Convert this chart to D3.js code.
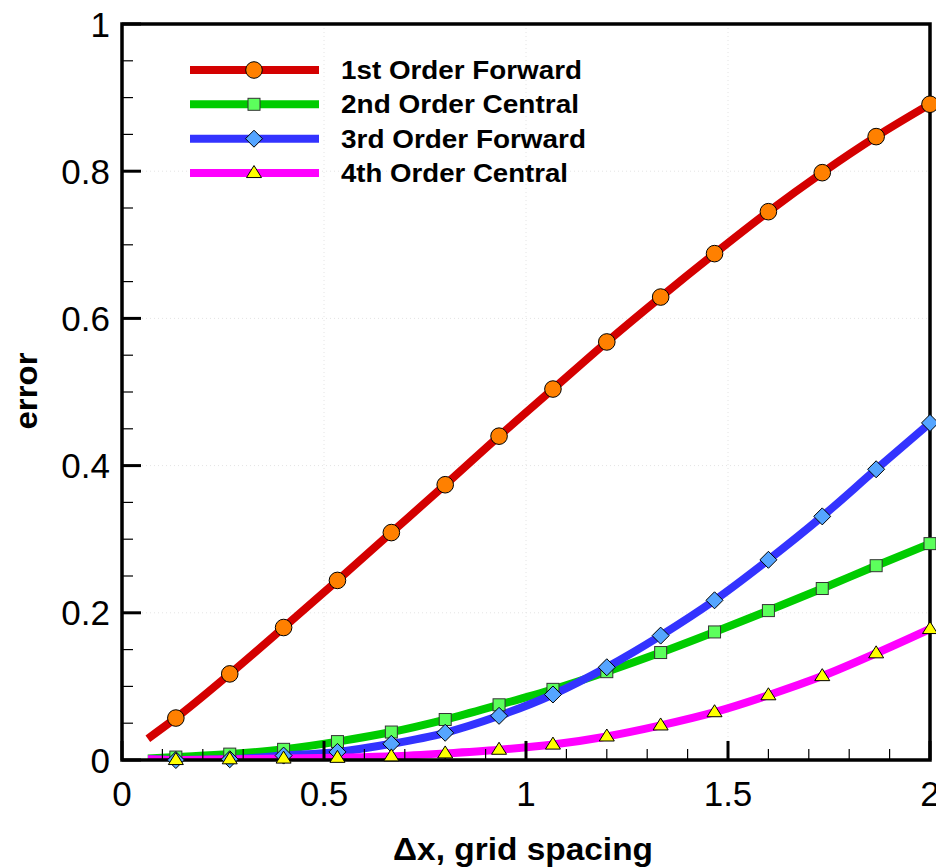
<!DOCTYPE html>
<html>
<head>
<meta charset="utf-8">
<script src="https://cdn.jsdelivr.net/npm/d3@7"></script>
<style>
  html, body { margin: 0; padding: 0; background: #fff; }
  svg { display: block; }
  text { font-family: "Liberation Sans", Arial, sans-serif; }
</style>
</head>
<body>
<svg id="chart" width="936" height="867"></svg>
<script>
// ---------------- data ----------------
const seriesNames = ["1st Order Forward", "2nd Order Central", "3rd Order Forward", "4th Order Central"];
const markerX = [0.1333, 0.2667, 0.4, 0.5333, 0.6667, 0.8, 0.9333, 1.0667, 1.2, 1.3333, 1.4667, 1.6, 1.7333, 1.8667, 2.0];
const firstOrder  = [0.057, 0.117, 0.180, 0.244, 0.309, 0.374, 0.440, 0.504, 0.568, 0.629, 0.688, 0.745, 0.798, 0.847, 0.891];
const secondOrder = [0.004, 0.008, 0.0145, 0.025, 0.038, 0.055, 0.075, 0.096, 0.120, 0.146, 0.174, 0.203, 0.233, 0.264, 0.294];
const thirdOrder  = [0.000, 0.001, 0.006, 0.011, 0.022, 0.037, 0.060, 0.089, 0.126, 0.169, 0.217, 0.272, 0.331, 0.395, 0.458];
const fourthOrder = [0.000, 0.001, 0.002, 0.003, 0.005, 0.009, 0.014, 0.021, 0.032, 0.047, 0.065, 0.088, 0.114, 0.145, 0.178];
const lineStartX = 0.064;
const lineStartY = [0.029, 0.002, 0.001, 0.001];
const xTicks = [0, 0.5, 1, 1.5, 2];
const xTickLabels = ["0", "0.5", "1", "1.5", "2"];
const yTicks = [0, 0.2, 0.4, 0.6, 0.8, 1];
const yTickLabels = ["0", "0.2", "0.4", "0.6", "0.8", "1"];
const xMinorTicks = [0.1,0.2,0.3,0.4,0.6,0.7,0.8,0.9,1.1,1.2,1.3,1.4,1.6,1.7,1.8,1.9];
const yMinorTicks = [0.05,0.1,0.15,0.25,0.3,0.35,0.45,0.5,0.55,0.65,0.7,0.75,0.85,0.9,0.95];
const xTitle = "\u0394x, grid spacing";
const yTitle = "error";

// ---------------- styles ----------------
const lineColors = ["#d40000", "#00cc00", "#3333ff", "#ff00ff"];
const markerFills = ["#ff8000", "#5cff5c", "#55a5ff", "#ffff00"];
const markerTypes = ["circle", "square", "diamond", "triangle"];
const legendTextWidths = [241, 238, 245, 227];

const allValues = [firstOrder, secondOrder, thirdOrder, fourthOrder];

(function () {
const svg = d3.select("#chart");
const pL = 122, pR = 930, pT = 24, pB = 760;
const x = d3.scaleLinear().domain([0, 2]).range([pL, pR]);
const y = d3.scaleLinear().domain([0, 1]).range([pB, pT]);

svg.append("defs").append("clipPath").attr("id", "plotClip")
  .append("rect").attr("x", pL).attr("y", pT).attr("width", pR - pL).attr("height", pB - pT);

// faint dotted grid
const grid = svg.append("g");
grid.selectAll("line.gy").data(yTicks.slice(1, -1)).join("line")
  .attr("x1", pL).attr("x2", pR).attr("y1", d => y(d)).attr("y2", d => y(d))
  .attr("stroke", "#e4e4e4").attr("stroke-width", 1).attr("stroke-dasharray", "1,3");
grid.selectAll("line.gx").data(xTicks.slice(1, -1)).join("line")
  .attr("y1", pT).attr("y2", pB).attr("x1", d => x(d)).attr("x2", d => x(d))
  .attr("stroke", "#e4e4e4").attr("stroke-width", 1).attr("stroke-dasharray", "1,3");

// lines
const lineGen = d3.line().x(d => x(d[0])).y(d => y(d[1])).curve(d3.curveMonotoneX);
const linesG = svg.append("g").attr("clip-path", "url(#plotClip)");
allValues.forEach((vals, i) => {
  const pts = [[lineStartX, lineStartY[i]]].concat(markerX.map((xv, j) => [xv, vals[j]]));
  linesG.append("path").attr("d", lineGen(pts))
    .attr("fill", "none").attr("stroke", lineColors[i]).attr("stroke-width", 8)
    .attr("stroke-linecap", "butt").attr("stroke-linejoin", "round");
});

// axes with ticks
const axisG = svg.append("g");
axisG.selectAll("line.mx").data(xMinorTicks).join("line")
  .attr("x1", d => x(d)).attr("x2", d => x(d)).attr("y1", pB).attr("y2", pB - 11)
  .attr("stroke", "#000").attr("stroke-width", 1.2);
axisG.selectAll("line.my").data(yMinorTicks).join("line")
  .attr("y1", d => y(d)).attr("y2", d => y(d)).attr("x1", pL).attr("x2", pL + 11)
  .attr("stroke", "#000").attr("stroke-width", 1.2);
axisG.selectAll("line.Mx").data(xTicks).join("line")
  .attr("x1", d => x(d)).attr("x2", d => x(d)).attr("y1", pB).attr("y2", pB - 19)
  .attr("stroke", "#000").attr("stroke-width", 3);
axisG.selectAll("line.My").data(yTicks).join("line")
  .attr("y1", d => y(d)).attr("y2", d => y(d)).attr("x1", pL).attr("x2", pL + 19)
  .attr("stroke", "#000").attr("stroke-width", 3);
axisG.append("rect").attr("x", pL).attr("y", pT).attr("width", pR - pL).attr("height", pB - pT)
  .attr("fill", "none").attr("stroke", "#000").attr("stroke-width", 3.5);

// tick labels
axisG.selectAll("text.xl").data(xTicks).join("text")
  .attr("x", d => x(d)).attr("y", 806).attr("text-anchor", "middle")
  .attr("font-size", 35).attr("fill", "#000").text((d, i) => xTickLabels[i]);
axisG.selectAll("text.yl").data(yTicks).join("text")
  .attr("x", 110).attr("y", d => y(d) + 12.5).attr("text-anchor", "end")
  .attr("font-size", 35).attr("fill", "#000").text((d, i) => yTickLabels[i]);

// axis titles
svg.append("text").attr("x", 523).attr("y", 860).attr("text-anchor", "middle")
  .attr("font-size", 31).attr("font-weight", "bold").attr("textLength", 260).attr("lengthAdjust", "spacingAndGlyphs")
  .text(xTitle);
svg.append("text").attr("transform", "translate(37,391) rotate(-90)").attr("text-anchor", "middle")
  .attr("font-size", 31).attr("font-weight", "bold").attr("textLength", 77).attr("lengthAdjust", "spacingAndGlyphs")
  .text(yTitle);

function drawMarker(g, type, cx, cy, fill) {
  if (type === "circle") {
    g.append("circle").attr("cx", cx).attr("cy", cy).attr("r", 8.3)
      .attr("fill", fill).attr("stroke", "#000").attr("stroke-width", 1);
  } else if (type === "square") {
    g.append("rect").attr("x", cx - 6).attr("y", cy - 6).attr("width", 12).attr("height", 12)
      .attr("fill", fill).attr("stroke", "#333").attr("stroke-width", 1);
  } else if (type === "diamond") {
    const s = 8.5;
    g.append("path").attr("d", `M${cx},${cy - s}L${cx + s},${cy}L${cx},${cy + s}L${cx - s},${cy}Z`)
      .attr("fill", fill).attr("stroke", "#000").attr("stroke-width", 1);
  } else {
    const w = 7.5, h = 12;
    g.append("path").attr("d", `M${cx},${cy - h * 0.62}L${cx + w},${cy + h * 0.38}L${cx - w},${cy + h * 0.38}Z`)
      .attr("fill", fill).attr("stroke", "#000").attr("stroke-width", 1);
  }
}

const markG = svg.append("g");
allValues.forEach((vals, i) => {
  const g = markG.append("g");
  vals.forEach((v, j) => drawMarker(g, markerTypes[i], x(markerX[j]), y(v), markerFills[i]));
});

// legend
const legend = svg.append("g");
const legendY = [70, 104.3, 138.7, 173];
seriesNames.forEach((name, i) => {
  const ly = legendY[i];
  legend.append("line").attr("x1", 190).attr("x2", 319).attr("y1", ly).attr("y2", ly)
    .attr("stroke", lineColors[i]).attr("stroke-width", 8);
  drawMarker(legend, markerTypes[i], 254, ly, markerFills[i]);
  legend.append("text").attr("x", 341).attr("y", ly + 9).attr("font-size", 26).attr("font-weight", "bold")
    .attr("textLength", legendTextWidths[i]).attr("lengthAdjust", "spacingAndGlyphs")
    .attr("fill", "#000").text(name);
});
})();
</script>
</body>
</html>
